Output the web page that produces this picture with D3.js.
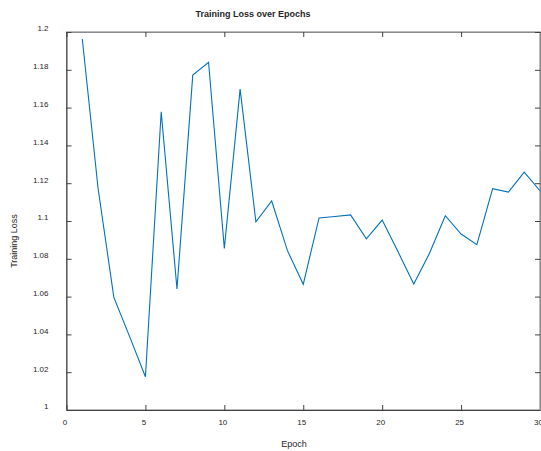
<!DOCTYPE html>
<html>
<head>
<meta charset="utf-8">
<script src="https://cdn.jsdelivr.net/npm/d3@7"></script>
<style>
  body { margin: 0; background: #fff; }
  text { font-family: "Liberation Sans", Arial, sans-serif; fill: #262626; }
</style>
</head>
<body>
<div id="chart"></div>
<script>
// Data
var epochs = d3.range(1, 31);
var loss = [1.1963, 1.1173, 1.0596, 1.0388, 1.0176, 1.1578, 1.0640, 1.1772, 1.1840, 1.0855,
            1.1698, 1.0996, 1.1106, 1.0843, 1.0665, 1.1016, 1.1024, 1.1032, 1.0906, 1.1005,
            1.0838, 1.0667, 1.0829, 1.1028, 1.0931, 1.0875, 1.1171, 1.1153, 1.1259, 1.1160];
var xTicks = [0, 5, 10, 15, 20, 25, 30];
var yTicks = [1, 1.02, 1.04, 1.06, 1.08, 1.1, 1.12, 1.14, 1.16, 1.18, 1.2];

var W = 541, H = 451;
var margin = {top: 32, right: 1, bottom: 41, left: 66.5};
var width = W - margin.left - margin.right;
var height = H - margin.top - margin.bottom;

var svg = d3.select("#chart")
  .append("svg")
    .attr("width", W)
    .attr("height", H);

var g = svg.append("g")
  .attr("transform", "translate(" + margin.left + "," + margin.top + ")");

var x = d3.scaleLinear().domain([0, 30]).range([0, width]);
var y = d3.scaleLinear().domain([1, 1.2]).range([height, 0]);

// box
g.append("rect")
  .attr("width", width)
  .attr("height", height)
  .attr("fill", "none")
  .attr("stroke", "#7a7a7a")
  .attr("stroke-width", 1);

// bottom axis, ticks pointing inward
var xAxis = g.append("g")
  .attr("transform", "translate(0," + height + ")")
  .call(d3.axisBottom(x).tickValues(xTicks).tickSizeInner(-5).tickSizeOuter(0).tickPadding(9)
    .tickFormat(d3.format("d")));
// top ticks
var xTop = g.append("g")
  .call(d3.axisTop(x).tickValues(xTicks).tickSizeInner(-5).tickSizeOuter(0).tickFormat(""));

// left axis
var yAxis = g.append("g")
  .call(d3.axisLeft(y).tickValues(yTicks).tickSizeInner(-5).tickSizeOuter(0).tickPadding(18)
    .tickFormat(function(d) { return d3.format("")(+d.toFixed(2)); }));
// right ticks
var yRight = g.append("g")
  .attr("transform", "translate(" + width + ",0)")
  .call(d3.axisRight(y).tickValues(yTicks).tickSizeInner(-5).tickSizeOuter(0).tickFormat(""));

[xAxis, xTop, yAxis, yRight].forEach(function(a) {
  a.select(".domain").attr("stroke", "#404040");
  a.selectAll(".tick line").attr("stroke", "#404040");
  a.selectAll(".tick text")
    .style("font-family", "'Liberation Sans', Arial, sans-serif")
    .style("font-size", "8px")
    .attr("fill", "#404040");
});
xAxis.selectAll(".tick text").attr("dx", "-2");
yAxis.selectAll(".tick text").attr("dy", "-0.13em");
xTop.select(".domain").attr("stroke", "#8a8a8a");
yRight.select(".domain").attr("stroke", "#8a8a8a");

// loss line
g.append("path")
  .datum(loss)
  .attr("fill", "none")
  .attr("stroke", "#0072BD")
  .attr("stroke-width", 1.1)
  .attr("d", d3.line()
    .x(function(d, i) { return x(epochs[i]); })
    .y(function(d) { return y(d); }));

// title and labels
svg.append("text")
  .attr("x", 253)
  .attr("y", 17)
  .attr("text-anchor", "middle")
  .style("font-size", "9px")
  .style("font-weight", "bold")
  .attr("fill", "#000")
  .text("Training Loss over Epochs");

svg.append("text")
  .attr("x", 294)
  .attr("y", 447)
  .attr("text-anchor", "middle")
  .style("font-size", "9px")
  .text("Epoch");

svg.append("text")
  .attr("transform", "translate(17,241) rotate(-90)")
  .attr("text-anchor", "middle")
  .style("font-size", "9px")
  .text("Training Loss");
</script>
</body>
</html>
